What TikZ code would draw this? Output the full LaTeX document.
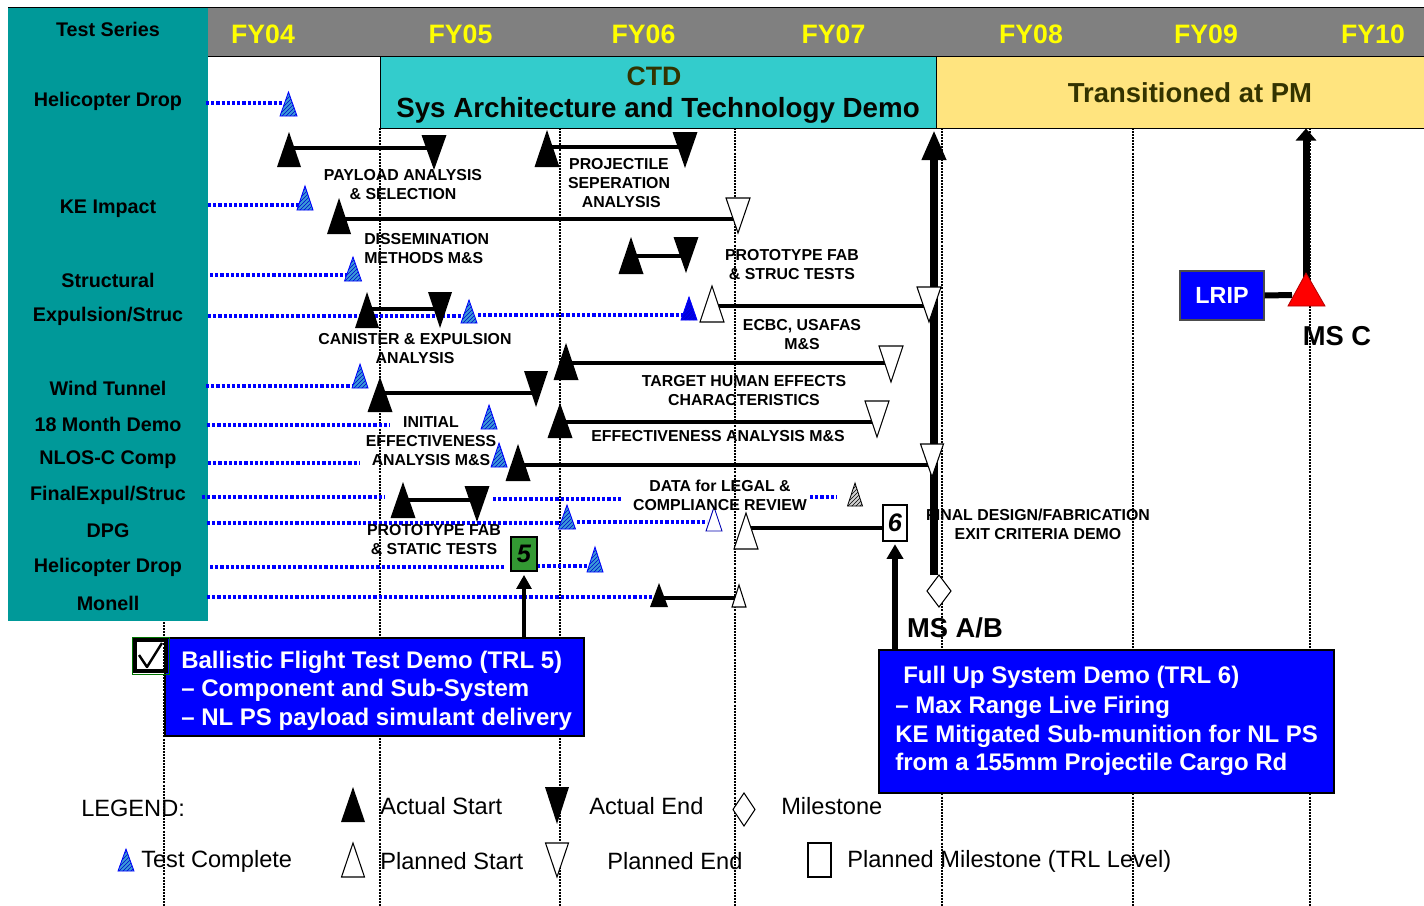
\documentclass[tikz,border=0pt]{standalone}
\usepackage{fontspec}
\setmainfont{Liberation Sans}
\usetikzlibrary{patterns,arrows.meta}
\definecolor{tealbg}{HTML}{009999}
\definecolor{hdrgray}{HTML}{808080}
\definecolor{ctdcyan}{HTML}{33CCCC}
\definecolor{pmyellow}{HTML}{FFE47F}
\definecolor{ctdtext}{HTML}{333300}
\definecolor{boxblue}{HTML}{0000FF}
\definecolor{grn}{HTML}{339933}
\definecolor{fyyellow}{HTML}{FFFF00}
\definecolor{tcfill}{HTML}{3A9AD8}
\newcommand\tup[5]{\path[#1] ({#2-#5},#4) -- (#2,#3) -- ({#2+#5},#4) -- cycle;}
\newcommand\tdn[5]{\path[#1] ({#2-#5},#3) -- ({#2+#5},#3) -- (#2,#4) -- cycle;}
\begin{document}
\begin{tikzpicture}[x=0.75pt,y=-0.75pt,
  vgrid/.style={line width=1.4pt, dash pattern=on 1.5pt off 0.8pt},
  bdot/.style={draw=blue, line width=2.4pt, dash pattern=on 2.4pt off 1.5pt},
  task/.style={line width=3pt},
  act/.style={fill=black},
  pln/.style={draw=black, fill=white, line width=0.8pt},
  tcomp/.style={draw=blue, line width=0.6pt, preaction={fill=tcfill}, pattern=north east lines, pattern color=blue!80!black},
  tdark/.style={draw=blue, line width=0.6pt, preaction={fill=blue!85!black}, pattern=north east lines, pattern color=blue},
  tgray/.style={draw=black, line width=0.6pt, preaction={fill=gray!35}, pattern=north east lines, pattern color=black},
  topen/.style={draw=blue!70!black, fill=white, line width=0.7pt},
  lab/.style={font=\bfseries\fontsize{11.9}{14.25}\selectfont, align=center, inner sep=0pt},
  ser/.style={font=\bfseries\fontsize{14.8}{17.8}\selectfont, inner sep=0pt},
  fy/.style={font=\bfseries\fontsize{20}{24}\selectfont, text=fyyellow, inner sep=0pt},
  big/.style={font=\bfseries\fontsize{20.5}{24}\selectfont, inner sep=0pt},
  boxtxt/.style={font=\bfseries\fontsize{18}{21}\selectfont, text=white, inner sep=0pt, anchor=west},
  leg/.style={font=\fontsize{17.7}{21}\selectfont, inner sep=0pt, anchor=west},
  bluebox/.style={draw=black, line width=1pt, fill=boxblue, inner sep=0pt},
]
\useasboundingbox (0,0) rectangle (1424,906);
\fill[white] (0,0) rectangle (1424,906);

% ---------- header ----------
\fill[tealbg] (8,8) rectangle (208,621);
\fill[hdrgray] (208,8) rectangle (1424,57);
\draw[line width=0.75pt] (8,8) -- (1424,8);
\draw[line width=0.75pt] (208,57) -- (1424,57);
\node[draw=black, line width=0.75pt, fill=ctdcyan, minimum width=417pt, minimum height=53.25pt, inner sep=0pt] (ctd) at (658,92.5) {};
\node[draw=black, line width=0.75pt, fill=pmyellow, minimum width=369pt, minimum height=53.25pt, inner sep=0pt] (pm) at (1182,92.5) {};

\node[fy] (fy04) at (263,34) {FY04};
\node[fy] (fy05) at (460.5,34) {FY05};
\node[fy] (fy06) at (643.5,34) {FY06};
\node[fy] (fy07) at (833.5,34) {FY07};
\node[fy] (fy08) at (1031,34) {FY08};
\node[fy] (fy09) at (1206,34) {FY09};
\node[fy] (fy10) at (1373,34) {FY10};

\node[font=\bfseries\fontsize{20}{24}\selectfont, text=ctdtext, inner sep=0pt] (ctdt) at (654,76) {CTD};
\node[font=\bfseries\fontsize{20.8}{24}\selectfont, text=black!90!ctdtext, inner sep=0pt] (sys) at (658,110) {Sys Architecture and Technology Demo};
\node[font=\bfseries\fontsize{20.6}{24}\selectfont, text=ctdtext, inner sep=0pt] (trans) at (1190,93) {Transitioned at PM};

% ---------- series labels ----------
\node[ser] (s0) at (108,29) {Test Series};
\node[ser] (s1) at (108,101) {Helicopter Drop};
\node[ser] (s2) at (108,209) {KE Impact};
\node[ser] (s3) at (108,280) {Structural};
\node[ser] (s4) at (108,316) {Expulsion/Struc};
\node[ser] (s5) at (108,388) {Wind Tunnel};
\node[ser] (s6) at (108,424) {18 Month Demo};
\node[ser] (s7) at (108,460) {NLOS-C Comp};
\node[ser] (s8) at (108,495) {FinalExpul/Struc};
\node[ser] (s9) at (108,531) {DPG};
\node[ser] (s10) at (108,567) {Helicopter Drop};
\node[ser] (s11) at (108,603) {Monell};

% ---------- grid ----------
\foreach \x in {380,560,735,942,1133,1310} \draw[vgrid] (\x,128) -- (\x,906);
\draw[vgrid] (164,622) -- (164,906);

% ---------- blue dotted test lines ----------
\draw[bdot] (206,103) -- (282,103);
\draw[bdot] (208,205) -- (300,205);
\draw[bdot] (210,275) -- (347,275);
\draw[bdot] (208,316) -- (464,316);
\draw[bdot] (478,315) -- (683,315);
\draw[bdot] (206,386) -- (355,386);
\draw[bdot] (207,425) -- (390,425);
\draw[bdot] (208,463) -- (360,463);
\draw[bdot] (202,497) -- (385,497);
\draw[bdot] (493,499) -- (622,499);
\draw[bdot] (810,497) -- (837,497);
\draw[bdot] (207,523) -- (561,523);
\draw[bdot] (577,522) -- (707,522);
\draw[bdot] (210,567) -- (505,567);
\draw[bdot] (537,566) -- (588,566);
\draw[bdot] (207,597) -- (652,597);

% ---------- task bars ----------
\draw[task] (289,148) -- (434,148);
\draw[task] (547,147) -- (685,147);
\draw[task] (339,219) -- (738,219);
\draw[task] (631,256) -- (686,256);
\draw[task] (367,309) -- (440,309);
\draw[task] (712,306) -- (929,306);
\draw[task] (566,363) -- (891,363);
\draw[task] (560,422) -- (877,422);
\draw[task] (380,393) -- (536,393);
\draw[task] (518,465) -- (932,465);
\draw[task] (403,500) -- (477,500);
\draw[task] (659,598) -- (739,598);

% thick final design line
\draw[line width=6.5pt, -{Triangle[length=22.5pt,width=17pt]}] (934,575) -- (934,130);

% ---------- triangles ----------
\tup{act}{289}{132}{167}{12}
\tdn{act}{434}{135}{170}{12.5}
\tup{act}{547}{130}{167}{12.5}
\tdn{act}{685}{132}{168}{12.5}
\tup{act}{339}{198}{234}{12}
\tdn{pln}{738}{198}{233}{12}
\tup{act}{631}{237}{274}{12.5}
\tdn{act}{686}{237}{273}{12.5}
\tup{act}{367}{292}{328}{12}
\tdn{act}{440}{292}{328}{12}
\tup{pln}{712}{286}{322}{12}
\tdn{pln}{929}{287}{322}{12}
\tup{act}{566}{343}{380}{12.5}
\tdn{pln}{891}{346}{382}{12}
\tup{act}{560}{403}{438}{12.5}
\tdn{pln}{877}{401}{437}{12}
\tup{act}{380}{377}{412}{12.5}
\tdn{act}{536}{371}{407}{12}
\tup{act}{518}{444}{481}{12.5}
\tdn{pln}{932}{444}{477}{11.5}
\tup{act}{403}{482}{518}{12.5}
\tdn{act}{477}{486}{522}{12.5}
\tup{act}{659}{583}{607}{9}
\tup{pln}{739}{585}{607}{7}

% test complete
\tup{tcomp}{288.5}{92}{116}{8.5}
\tup{tcomp}{305}{186}{210}{8}
\tup{tcomp}{353}{257}{281}{8.5}
\tup{tcomp}{469}{300}{323}{8}
\tup{tdark}{689}{297}{320}{8}
\tup{tcomp}{360}{364}{388}{8}
\tup{tcomp}{489}{405}{429}{8}
\tup{tcomp}{499}{443}{467}{8}
\tup{tgray}{855}{483}{506}{7.5}
\tup{tcomp}{567}{505}{529}{8.5}
\tup{topen}{714}{507}{531}{8}
\tup{tcomp}{595}{547}{572}{8}

% milestone diamond
\draw[fill=white, line width=0.8pt] (939,575) -- (951,591) -- (939,607) -- (927,591) -- cycle;

% TRL boxes
\node[draw=black, line width=0.8pt, fill=grn, minimum width=19.5pt, minimum height=25.5pt, inner sep=0pt, font=\bfseries\itshape\fontsize{19}{22}\selectfont] (b5) at (524,554) {5};
\node[draw=black, line width=0.8pt, fill=white, minimum width=18pt, minimum height=27pt, inner sep=0pt, font=\bfseries\itshape\fontsize{19}{22}\selectfont] (b6) at (895,523) {6};
\coordinate (ps6) at (746,528);
\draw[task] (ps6) -- (ps6 -| b6.west);
\tup{pln}{746}{513}{549}{12}

% ---------- task labels ----------
\node[lab] (l1) at (403,184.5) {PAYLOAD ANALYSIS\\\& SELECTION};
\node[lab] (l2) at (619,183) {PROJECTILE\\SEPERATION\\\ ANALYSIS};
\node[lab, align=left, anchor=west] (l3) at (364,248.5) {DISSEMINATION\\METHODS M\&S};
\node[lab] (l4) at (792,264.5) {PROTOTYPE FAB\\\& STRUC TESTS};
\node[lab] (l5) at (415,348.5) {CANISTER \& EXPULSION\\ANALYSIS};
\node[lab] (l6) at (802,334.5) {ECBC, USAFAS\\M\&S};
\node[lab] (l7) at (744,390.5) {TARGET HUMAN EFFECTS\\CHARACTERISTICS};
\node[lab] (l8) at (718,436) {EFFECTIVENESS ANALYSIS M\&S};
\node[lab] (l9) at (431,441) {INITIAL\\EFFECTIVENESS\\ANALYSIS M\&S};
\node[lab] (l10) at (720,495) {DATA for LEGAL \&\\COMPLIANCE REVIEW};
\node[lab] (l11) at (434,539.5) {PROTOTYPE FAB\\\& STATIC TESTS};
\node[lab] (l12) at (1038,524) {FINAL DESIGN/FABRICATION\\EXIT CRITERIA DEMO};

% ---------- LRIP / MS C ----------
\node[bluebox, draw=black!70, minimum width=63pt, minimum height=36.75pt, text=white, font=\bfseries\fontsize{17.5}{20}\selectfont] (lrip) at (1222,295.5) {LRIP};
\draw[line width=4.5pt] (lrip.east) -- (1292,295);
\coordinate (msc) at (1306,290);
\draw[line width=5.25pt, -{Triangle[length=9pt,width=15pt]}] (msc) -- (msc |- pm.south);
\draw[fill=red, draw=red!70!black, line width=0.6pt] (1288,306) -- (1306,273) -- (1325,306) -- cycle;
\node[big] (mscl) at (1337,336) {MS C};
\node[big] (msab) at (955,628) {MS A/B};

% ---------- blue boxes ----------
\node[bluebox, minimum width=314.25pt, minimum height=73.5pt] (bft) at (374.5,687) {};
\node[boxtxt] (bft1) at (181,662) {Ballistic Flight Test Demo (TRL 5)};
\node[boxtxt] (bft2) at (181,690) {– Component and Sub-System};
\node[boxtxt] (bft3) at (181,719) {– NL PS payload simulant delivery};
\draw[line width=3.5pt, -{Triangle[length=10.5pt,width=11pt]}, shorten >=2.5pt] (bft.north -| b5.south) -- (b5.south);

\node[bluebox, minimum width=341.25pt, minimum height=107.25pt] (fus) at (1106.5,721.5) {};
\node[boxtxt] (fus1) at (903,677) {Full Up System Demo (TRL 6)};
\node[boxtxt] (fus2) at (895,707) {– Max Range Live Firing};
\node[boxtxt] (fus3) at (895,736) {KE Mitigated Sub-munition for NL PS};
\node[boxtxt] (fus4) at (895,764) {from a 155mm Projectile Cargo Rd};
\draw[line width=4pt, -{Triangle[length=11pt,width=12pt]}, shorten >=2pt] (fus.north -| b6.south) -- (b6.south);

% check box
\draw[draw=green!45!black, line width=0.75pt] (132,637) rectangle (169,674);
\draw[line width=2.4pt] (135,640) rectangle (166,671);
\draw[line width=1.8pt, line join=round] (139,655) -- (147,667) -- (162,643);

% ---------- legend ----------
\node[leg] (lg) at (81,808) {LEGEND:};
\tup{act}{353}{787}{822}{12}
\node[leg] (lg1) at (380,806) {Actual Start};
\tdn{act}{557}{787}{824}{12}
\node[leg] (lg2) at (589,806) {Actual End};
\draw[fill=white, line width=0.8pt] (744,793) -- (755,809.5) -- (744,826) -- (733,809.5) -- cycle;
\node[leg] (lg3) at (781,806) {Milestone};
\tup{tcomp}{126}{849}{871}{8}
\node[leg] (lg4) at (141,861) {Test Complete};
\tup{pln}{353}{843}{877}{11.5}
\node[leg] (lg5) at (380,861) {Planned Start};
\tdn{pln}{557}{843}{877}{11.5}
\node[leg] (lg6) at (607,861) {Planned End};
\draw[line width=0.8pt] (808,843) rectangle (831,877);
\node[leg] (lg7) at (847,861) {Planned Milestone (TRL Level)};
\end{tikzpicture}
\end{document}
